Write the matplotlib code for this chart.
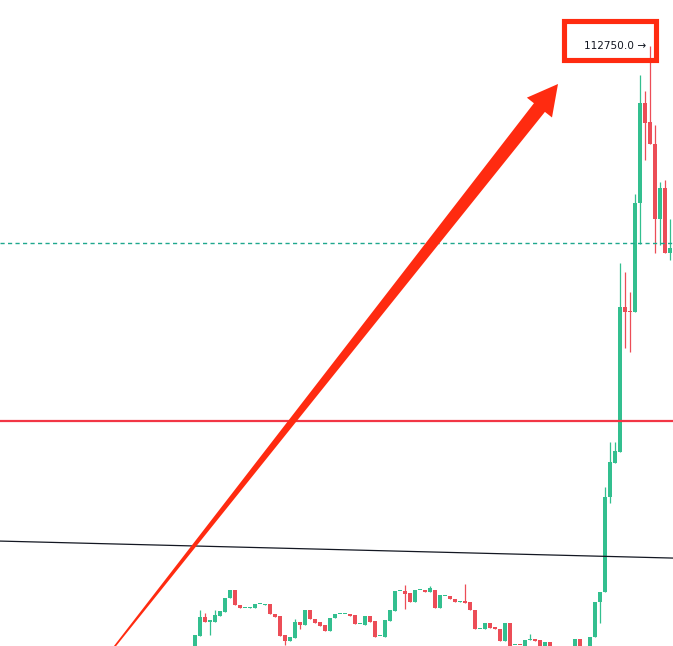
import matplotlib
matplotlib.use("Agg")
import matplotlib.pyplot as plt
import numpy as np
from matplotlib.patches import Polygon, Rectangle

# candle data (prices), one entry per bar
opens = [106710, 106850, 107040, 106990, 106990, 107050, 107090, 107230, 107310, 107160,
         107130, 107130, 107130, 107170, 107165, 107170, 107070, 107050, 106860, 106800,
         106830, 106990, 106960, 107110, 107020, 106990, 106960, 106900, 107030, 107070,
         107070, 107070, 107060, 106970, 106960, 107050, 107000, 106850, 106840, 107000,
         107100, 107300, 107300, 107280, 107190, 107310, 107310, 107290, 107310, 107130,
         107250, 107250, 107220, 107195, 107200, 107190, 107110, 106920, 106920, 106980,
         106940, 106920, 106800, 106980, 106760, 106762, 106730, 106810, 106820, 106810,
         106710, 106790, 106710, 106650, 106690, 106640, 106700, 106820, 106650, 106700,
         106840, 107190, 107290, 108240, 108580, 108690, 110140, 110100, 110090, 111180,
         112180, 111990, 111770, 111020, 111330, 110680]
closes = [106860, 107040, 106990, 107010, 107060, 107100, 107230, 107310, 107160, 107130,
          107135, 107140, 107170, 107172, 107170, 107070, 107040, 106850, 106800, 106840,
          106990, 106960, 107110, 107020, 106980, 106950, 106900, 107030, 107070, 107072,
          107072, 107050, 106970, 106972, 107050, 106990, 106840, 106852, 107010, 107110,
          107300, 107302, 107270, 107190, 107310, 107312, 107290, 107330, 107130, 107260,
          107252, 107220, 107195, 107197, 107185, 107110, 106920, 106922, 106980, 106935,
          106920, 106800, 106980, 106710, 106762, 106758, 106810, 106812, 106800, 106710,
          106790, 106710, 106650, 106690, 106640, 106700, 106820, 106700, 106700, 106840,
          107190, 107290, 108240, 108590, 108700, 110140, 110090, 110090, 111180, 112180,
          111980, 111770, 111020, 111330, 110680, 110730]
highs = [106860, 107110, 107080, 107010, 107110, 107100, 107230, 107310, 107310, 107160,
         107135, 107140, 107170, 107172, 107170, 107170, 107070, 107050, 106860, 106840,
         107020, 106990, 107110, 107110, 107020, 106990, 106960, 107030, 107070, 107072,
         107072, 107070, 107060, 106972, 107050, 107050, 107000, 106852, 107010, 107110,
         107300, 107302, 107360, 107280, 107310, 107312, 107310, 107350, 107310, 107260,
         107252, 107250, 107220, 107197, 107370, 107190, 107110, 106922, 106980, 106980,
         106940, 106920, 106980, 106980, 106762, 106762, 106810, 106870, 106820, 106810,
         106790, 106790, 106710, 106690, 106690, 106700, 106820, 106820, 106700, 106840,
         107190, 107290, 108340, 108790, 108790, 110580, 110490, 110290, 111270, 112460,
         112300, 112750, 111960, 111390, 111410, 111020]
lows = [106710, 106850, 106990, 106860, 106990, 107050, 107090, 107230, 107160, 107130,
        107130, 107130, 107130, 107170, 107165, 107070, 107040, 106850, 106760, 106800,
        106830, 106920, 106960, 107020, 106980, 106950, 106900, 106900, 107030, 107070,
        107070, 107050, 106970, 106970, 106960, 106990, 106840, 106850, 106840, 107000,
        107100, 107300, 107120, 107190, 107190, 107310, 107290, 107290, 107130, 107130,
        107250, 107220, 107195, 107195, 107185, 107110, 106920, 106920, 106920, 106935,
        106920, 106800, 106800, 106710, 106760, 106758, 106730, 106810, 106800, 106710,
        106710, 106710, 106650, 106650, 106640, 106640, 106700, 106700, 106650, 106700,
        106840, 106980, 107290, 108180, 108580, 108690, 109730, 109690, 110090, 110770,
        111610, 111770, 110680, 110760, 110680, 110610]

dashed_level = 110780
red_level = 109000
trend_pts = [(0, 107750), (95, 107630)]
label_text = "112750.0 \u2192"

up_color = "#33bf8f"
down_color = "#ec4d57"

o = np.array(opens, float)
c = np.array(closes, float)
h = np.array(highs, float)
l = np.array(lows, float)
idx = np.arange(len(o))
colors = np.where(c >= o, up_color, down_color)

fig = plt.figure(figsize=(6.73, 6.46), dpi=100)
ax = fig.add_axes([0, 0, 1, 1])
ax.set_xlim(-39, 95.6)
ax.set_ylim(106750, 113210)
ax.axis("off")

# candles
ax.vlines(idx, l, h, colors=colors, linewidth=0.9, zorder=2)
bottoms = np.minimum(o, c)
heights = np.maximum(np.abs(c - o), 10)
ax.bar(idx, heights, bottom=bottoms, width=0.8, color=colors, linewidth=0, zorder=3)

# levels
ax.axhline(dashed_level, color="#1fa88e", linewidth=1.0, dashes=(3.0, 2.4), zorder=4)
ax.axhline(red_level, color="#f23645", linewidth=1.6, zorder=4)
ax.axline(trend_pts[0], trend_pts[1], color="#131722", linewidth=0.9, zorder=4)

# price label next to the high
ax.annotate(label_text, xy=(91, 112750), xytext=(-3, 0), textcoords="offset points",
            ha="right", va="center", fontsize=7.6, color="#131722", zorder=6)

# overlay in pixel space for the hand drawn marks
ov = fig.add_axes([0, 0, 1, 1], zorder=5)
ov.set_xlim(0, 673)
ov.set_ylim(646, 0)
ov.axis("off")
ov.patch.set_alpha(0)

mark_red = "#ff2b10"
tail = np.array([104.0, 660.0])
tip = np.array([558.0, 84.0])
u = (tip - tail) / np.linalg.norm(tip - tail)
n = np.array([u[1], -u[0]])
base = tip - u * 30
pts = [tail + n * 0.7, base + n * 7, base + n * 16, tip,
       base - n * 16, base - n * 7, tail - n * 0.7]
ov.add_patch(Polygon(pts, closed=True, facecolor=mark_red, edgecolor="none"))

ov.add_patch(Rectangle((564, 21), 91.5, 39, fill=False, edgecolor=mark_red, linewidth=3.7))

fig.savefig("out.png", dpi=100)
